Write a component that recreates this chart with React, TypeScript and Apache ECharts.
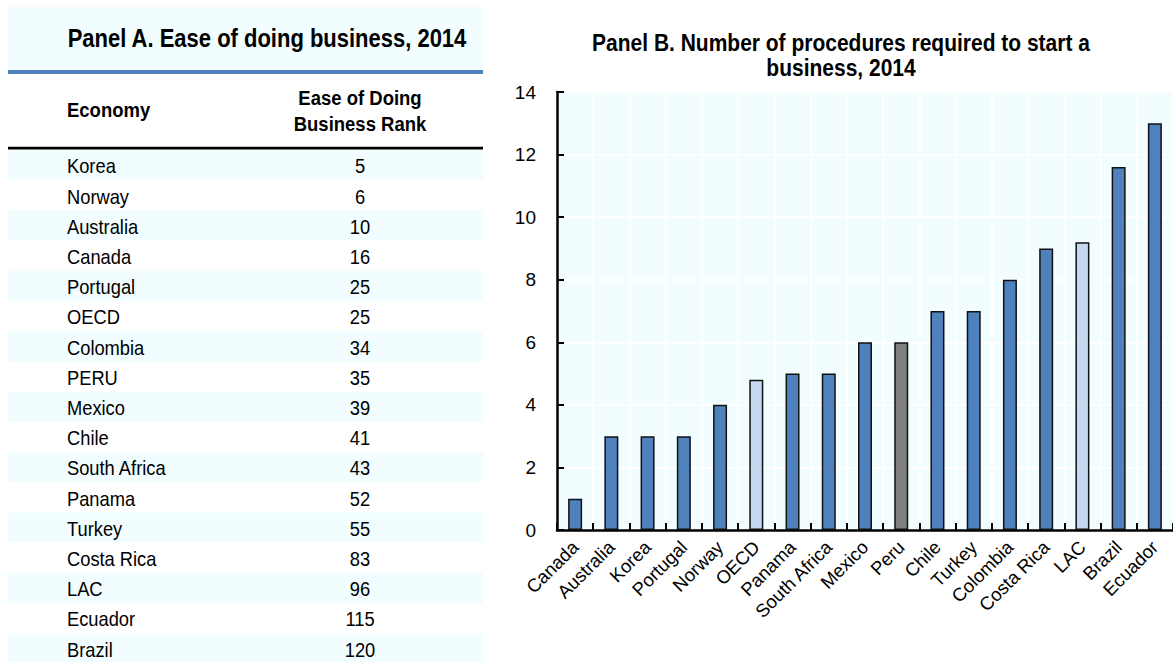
import React, { useEffect, useRef } from "react";
import * as echarts from "echarts";

const FONT = '"Liberation Sans", Arial, Helvetica, sans-serif';

// ---- Texts ----
const panelATitle = "Panel A. Ease of doing business, 2014";
const panelBTitleLines = [
  "Panel B. Number of procedures required to start a",
  "business, 2014",
];
const economyHeader = "Economy";
const rankHeaderLines = ["Ease of Doing", "Business Rank"];

// ---- Panel A table data ----
const economies = [
  "Korea", "Norway", "Australia", "Canada", "Portugal", "OECD", "Colombia", "PERU",
  "Mexico", "Chile", "South Africa", "Panama", "Turkey", "Costa Rica", "LAC", "Ecuador", "Brazil",
];
const ranks = [5, 6, 10, 16, 25, 25, 34, 35, 39, 41, 43, 52, 55, 83, 96, 115, 120];

// ---- Panel B chart data ----
const categories = [
  "Canada", "Australia", "Korea", "Portugal", "Norway", "OECD", "Panama", "South Africa",
  "Mexico", "Peru", "Chile", "Turkey", "Colombia", "Costa Rica", "LAC", "Brazil", "Ecuador",
];
const procedures = [1, 3, 3, 3, 4, 4.8, 5, 5, 6, 6, 7, 7, 8, 9, 9.2, 11.6, 13];
const aggregateCategories = ["OECD", "LAC"];
const highlightCategory = "Peru";
const yMin = 0;
const yMax = 14;
const yInterval = 2;

// ---- Styles ----
const BG = "#f1fdfe";
const BAR = "#4f81bd";
const BAR_AGG = "#c6d9f1";
const BAR_HL = "#808080";

function txt(text: string, x: number, y: number, size: number, bold: boolean, align: string, scaleY: number) {
  return {
    type: "text", x, y, scaleY,
    style: {
      text, fill: "#000", fontSize: size, fontWeight: bold ? "bold" : "normal", fontFamily: FONT,
      textAlign: align, textVerticalAlign: "middle", align, verticalAlign: "middle",
    },
  };
}

function buildGraphic() {
  const els: any[] = [];
  const left = 8;
  const width = 475;
  els.push({ type: "rect", shape: { x: left, y: 7, width, height: 63 }, style: { fill: BG }, silent: true });
  els.push({ type: "rect", shape: { x: left, y: 70, width, height: 4 }, style: { fill: "#4f81bd" }, silent: true });
  els.push(txt(panelATitle, 267, 38, 22, true, "center", 1.15));
  els.push(txt(economyHeader, 67, 110, 18.5, true, "left", 1.08));
  rankHeaderLines.forEach((t, i) => els.push(txt(t, 360, 98 + i * 26, 18.5, true, "center", 1.08)));
  els.push({ type: "rect", shape: { x: left, y: 146.8, width, height: 2.6 }, style: { fill: "#000" }, silent: true });
  const rowTop = 150;
  const rowH = 30.2;
  economies.forEach((name, i) => {
    const y0 = rowTop + i * rowH;
    if (i % 2 === 0) {
      els.push({ type: "rect", shape: { x: left, y: y0, width, height: rowH }, style: { fill: BG }, silent: true, z: -1 });
    }
    const cy = y0 + rowH / 2 + 1.5;
    els.push(txt(name, 67, cy, 18.3, false, "left", 1.07));
    els.push(txt(String(ranks[i]), 360, cy, 18.3, false, "center", 1.07));
  });
  panelBTitleLines.forEach((t, i) => els.push(txt(t, 841, 43 + i * 25, 21, true, "center", 1.15)));
  return els;
}

export default function App() {
  const ref = useRef<HTMLDivElement>(null);
  useEffect(() => {
    document.body.style.margin = "0";
    const chart = echarts.init(ref.current!, null, { renderer: "svg" });
    const data = categories.map((c, i) => ({
      value: procedures[i],
      itemStyle: {
        color: c === highlightCategory ? BAR_HL : aggregateCategories.includes(c) ? BAR_AGG : BAR,
      },
    }));
    chart.setOption({
      animation: false,
      backgroundColor: "#fff",
      textStyle: { fontFamily: FONT },
      graphic: buildGraphic(),
      grid: {
        left: 557, top: 92, width: 619, height: 438,
        show: true, backgroundColor: BG, borderColor: "#000", borderWidth: 2,
      },
      xAxis: {
        type: "category",
        data: categories,
        boundaryGap: true,
        axisLine: { show: true, lineStyle: { color: "#000", width: 2.5 } },
        axisTick: { show: true, inside: true, length: 7, interval: 0, lineStyle: { color: "#000", width: 2 } },
        axisLabel: { interval: 0, rotate: 45, margin: 14, fontSize: 18.5, color: "#000", fontFamily: FONT },
        splitLine: { show: true, interval: 0, lineStyle: { color: "#ffffff", width: 2 } },
      },
      yAxis: {
        type: "value",
        min: yMin, max: yMax, interval: yInterval,
        axisLine: { show: true, lineStyle: { color: "#000", width: 2.5 } },
        axisTick: { show: true, inside: true, length: 7, lineStyle: { color: "#000", width: 2 } },
        axisLabel: { margin: 21, fontSize: 19, color: "#000", fontFamily: FONT },
        splitLine: { show: true, lineStyle: { color: "#ffffff", width: 2 } },
      },
      series: [
        {
          type: "bar",
          data,
          barWidth: 14,
          itemStyle: { borderColor: "#111", borderWidth: 1.5 },
        },
      ],
    });
    return () => chart.dispose();
  }, []);
  return <div ref={ref} style={{ width: 1173, height: 662 }} />;
}
